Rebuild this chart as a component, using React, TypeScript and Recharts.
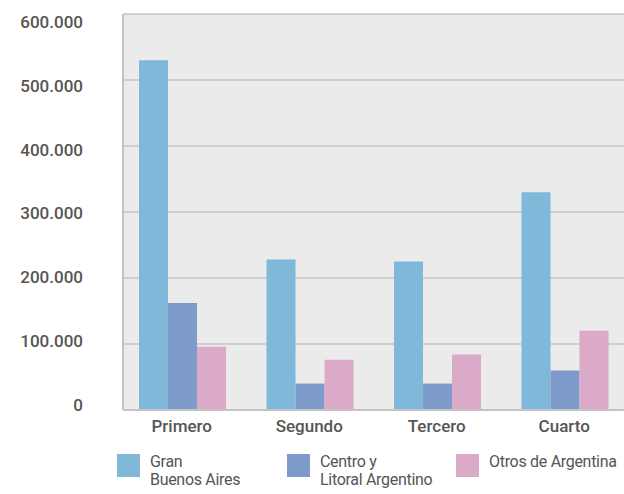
import React from "react";
import { BarChart, Bar, XAxis, YAxis, CartesianGrid, Legend } from "recharts";

const categories = ["Primero", "Segundo", "Tercero", "Cuarto"];
const granBuenosAires = [530000, 228000, 225000, 330000];
const centroLitoral = [162000, 40000, 40000, 60000];
const otrosArgentina = [96000, 76000, 84000, 120000];
const yTicks = [0, 100000, 200000, 300000, 400000, 500000, 600000];
const seriesNames = ["Gran\nBuenos Aires", "Centro y\nLitoral Argentino", "Otros de Argentina"];
const seriesColors = ["#7fb8d8", "#7f9bcb", "#dbaac8"];
const seriesKeys = ["gba", "centro", "otros"];

const data = categories.map((c, i) => ({
  name: c,
  gba: granBuenosAires[i],
  centro: centroLitoral[i],
  otros: otrosArgentina[i],
}));

const FONT = "'Roboto', 'Liberation Sans', sans-serif";

const fmt = (v: number) => String(v).replace(/\B(?=(\d{3})+(?!\d))/g, ".");

const legendLeft = [117, 287, 456];

const LegendContent = () => (
  <div style={{ position: "relative", width: 624, height: 54, fontFamily: FONT }}>
    {seriesKeys.map((k, i) => (
      <div key={k} style={{ position: "absolute", left: legendLeft[i], top: 14, display: "flex" }}>
        <div style={{ width: 23, height: 23, background: seriesColors[i] }} />
        <div
          style={{
            marginLeft: 10,
            fontSize: 16,
            lineHeight: "18px",
            color: "#555",
            whiteSpace: "pre",
            marginTop: -1,
            letterSpacing: -0.3,
          }}
        >
          {seriesNames[i]}
        </div>
      </div>
    ))}
  </div>
);

const YTick = (props: any) => {
  const { x, y, payload } = props;
  const v = payload.value as number;
  const shift = 8 - ((600000 - v) / 100000) * 2.2;
  return (
    <text
      x={x}
      y={y + shift}
      textAnchor="end"
      dominantBaseline="central"
      fill="#555"
      fontSize={17}
      fontWeight={500}
      fontFamily={FONT}
    >
      {fmt(v)}
    </text>
  );
};

export default function App() {
  return (
    <div style={{ position: "absolute", left: 0, top: 0, width: 624, height: 494, background: "#fff" }}>
      <BarChart
        width={624}
        height={494}
        data={data}
        margin={{ top: 14, right: 0, left: 0, bottom: 0 }}
        barCategoryGap={21}
        barGap={0}
      >
        <CartesianGrid vertical={false} fill="#ebebeb" stroke="#c4c4c4" strokeWidth={1.5} />
        <XAxis
          dataKey="name"
          height={30}
          tickSize={0}
          tickMargin={10}
          padding={{ left: -5, right: -4 }}
          axisLine={{ stroke: "#c4c4c4", strokeWidth: 2 }}
          tickLine={false}
          tick={{ fill: "#555", fontSize: 17, fontWeight: 500, fontFamily: FONT }}
        />
        <YAxis
          width={123}
          domain={[0, 600000]}
          ticks={yTicks}
          tickSize={0}
          tickMargin={40}
          axisLine={{ stroke: "#c4c4c4", strokeWidth: 2 }}
          tickLine={false}
          tick={<YTick />}
        />
        <Legend verticalAlign="bottom" height={54} content={<LegendContent />} />
        {seriesKeys.map((k, i) => (
          <Bar key={k} dataKey={k} name={seriesNames[i]} fill={seriesColors[i]} isAnimationActive={false} />
        ))}
      </BarChart>
    </div>
  );
}
